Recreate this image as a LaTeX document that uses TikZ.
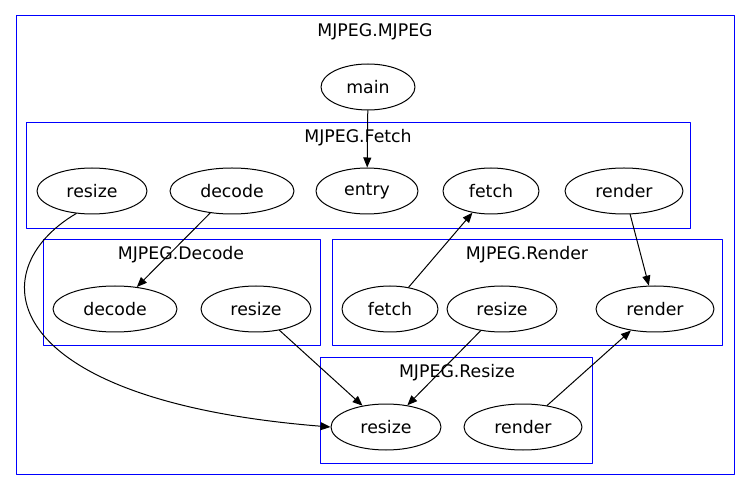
\documentclass[tikz,border=0pt]{standalone}
\usepackage{fontspec}
\setmainfont{DejaVu Sans}
\usetikzlibrary{arrows.meta,shapes.geometric}
\begin{document}
\begin{tikzpicture}[
		x=0.75pt,y=-0.75pt,
		>={Triangle[length=7.5pt,width=6pt]},
		line width=0.75pt,
		line cap=round,
		line join=round,
		font=\fontsize{13pt}{15pt}\selectfont,
		cluster/.style={draw=blue},
		fn/.style={draw,ellipse,minimum height=34.5pt,inner sep=0pt}
		]
		\useasboundingbox (0,0) rectangle (749,491);
		% clusters
		\draw[cluster] (16,16) rectangle (734,474);
		\node (tMjpeg) at (375,32) {MJPEG.MJPEG};
		\draw[cluster] (26,123) rectangle (690,229);
		\node (tFetch) at (358,138) {MJPEG.Fetch};
		\draw[cluster] (43,240) rectangle (320,346);
		\node (tDecode) at (181,255) {MJPEG.Decode};
		\draw[cluster] (332,240) rectangle (722,346);
		\node (tRender) at (527,255) {MJPEG.Render};
		\draw[cluster] (320,357) rectangle (592,463);
		\node (tResize) at (457,373) {MJPEG.Resize};
		% functions
		\node[fn,minimum width=70.5pt] (main) at (368,87) {main};
		\node[fn,minimum width=82.5pt] (fetchResize) at (92,191) {resize};
		\node[fn,minimum width=93pt] (fetchDecode) at (232,191) {decode};
		\node[fn,minimum width=76.5pt] (fetchEntry) at (367,191) {entry};
		\node[fn,minimum width=72pt] (fetchFetch) at (491,191) {fetch};
		\node[fn,minimum width=88.5pt] (fetchRender) at (624,191) {render};
		\node[fn,minimum width=93pt] (decodeDecode) at (115,309) {decode};
		\node[fn,minimum width=82.5pt] (decodeResize) at (256,309) {resize};
		\node[fn,minimum width=72pt] (renderFetch) at (390,309) {fetch};
		\node[fn,minimum width=82.5pt] (renderResize) at (502,309) {resize};
		\node[fn,minimum width=88.5pt] (renderRender) at (655,309) {render};
		\node[fn,minimum width=82.5pt] (resizeResize) at (386,427) {resize};
		\node[fn,minimum width=88.5pt] (resizeRender) at (523,427) {render};
		% calls
		\begin{scope}[->]
		\draw (main) -- (fetchEntry);
		\draw (fetchDecode) -- (decodeDecode);
		\draw (fetchResize.235) .. controls (-20,270) and (-5,400) .. (resizeResize.west);
		\draw (decodeResize) -- (resizeResize);
		\draw (renderFetch) -- (fetchFetch);
		\draw (fetchRender) -- (renderRender);
		\draw (renderResize) -- (resizeResize);
		\draw (resizeRender) -- (renderRender);
		\end{scope}
		\end{tikzpicture}
\end{document}
